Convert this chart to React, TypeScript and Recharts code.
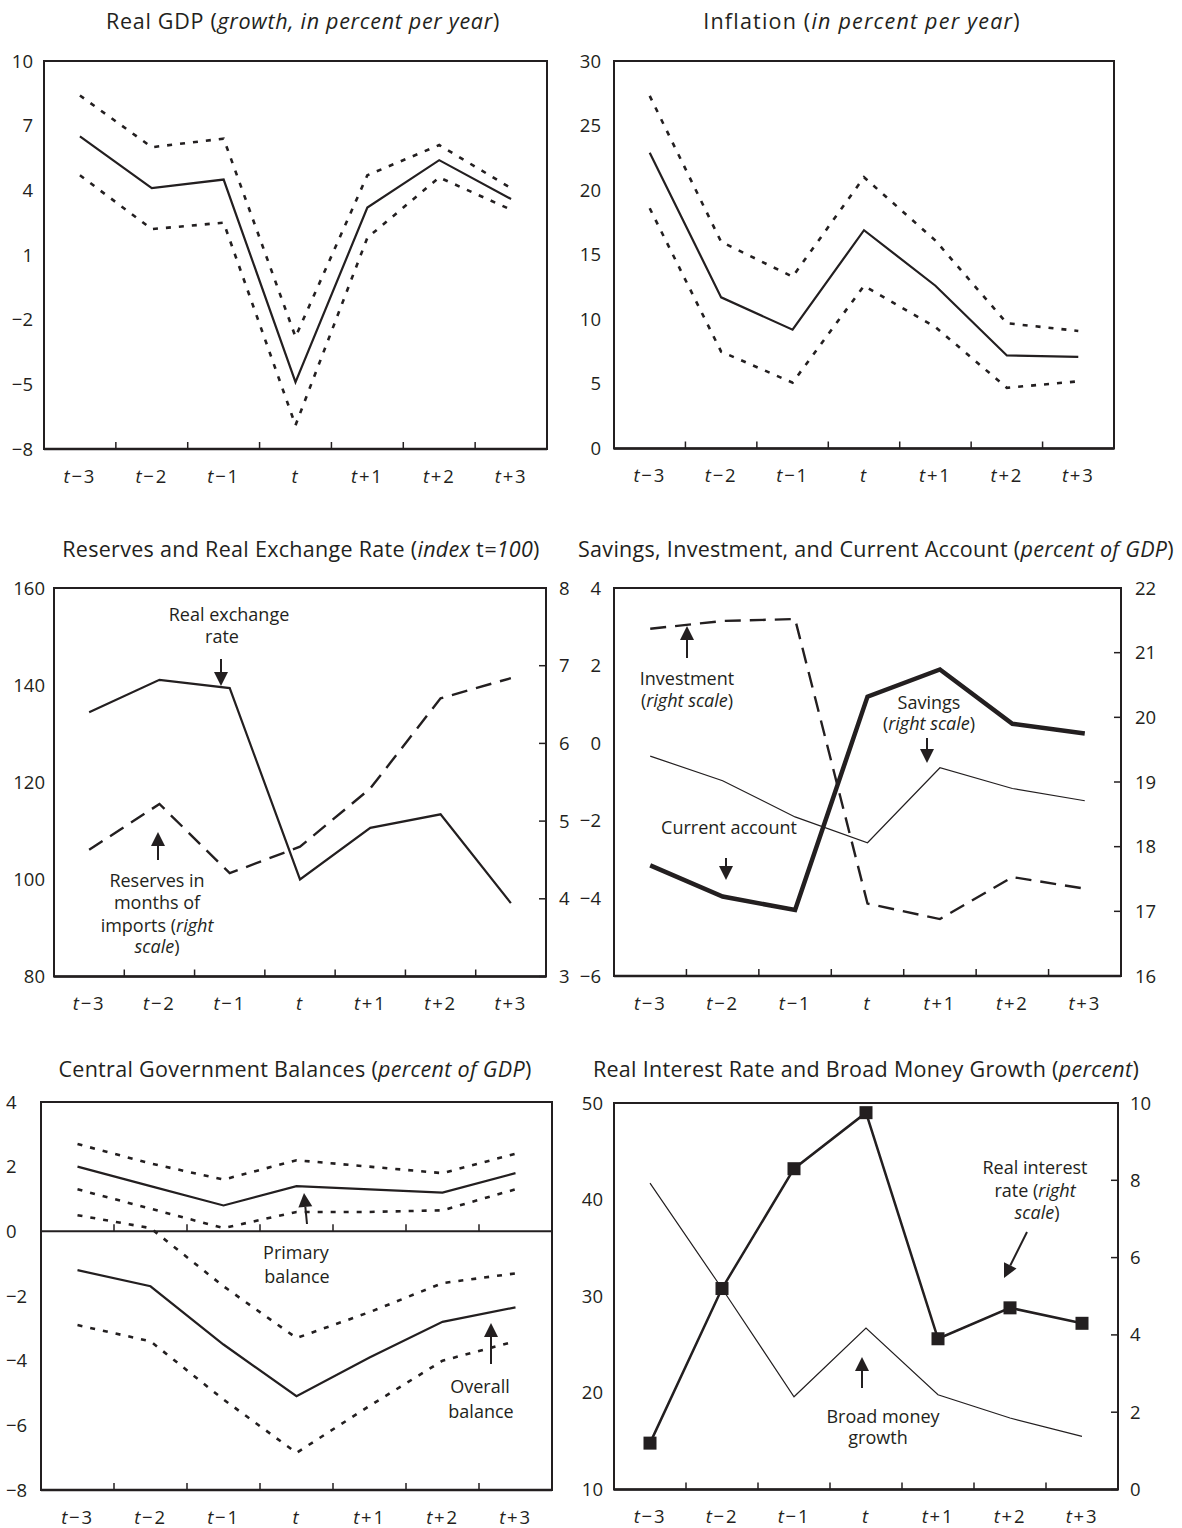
import React from 'react';
import { Line, LineChart, ReferenceArea, ReferenceLine, XAxis, YAxis } from 'recharts';

const INK = '#231f20';
const FONT = '"Open Sans", "Noto Sans", sans-serif';

const periods = ['t−3', 't−2', 't−1', 't', 't+1', 't+2', 't+3'];

// Real GDP (growth, percent per year)
const gdpBaseline = [6.5, 4.1, 4.5, -4.9, 3.2, 5.4, 3.6];
const gdpHigh = [8.4, 6.0, 6.4, -2.8, 4.7, 6.1, 4.1];
const gdpLow = [4.7, 2.2, 2.5, -6.9, 1.8, 4.6, 3.1];
const gdpTicks = [-8, -5, -2, 1, 4, 7, 10];

// Inflation (percent per year)
const inflBaseline = [22.9, 11.7, 9.2, 16.9, 12.6, 7.2, 7.1];
const inflHigh = [27.3, 16.0, 13.3, 21.0, 16.1, 9.7, 9.1];
const inflLow = [18.6, 7.5, 5.1, 12.6, 9.4, 4.7, 5.2];
const inflTicks = [0, 5, 10, 15, 20, 25, 30];

// Reserves and real exchange rate
const realExchangeRate = [134.4, 141.1, 139.4, 100.0, 110.6, 113.4, 95.1];
const reserveMonths = [4.63, 5.22, 4.33, 4.67, 5.42, 6.58, 6.84];
const rerTicks = [80, 100, 120, 140, 160];
const reserveTicks = [3, 4, 5, 6, 7, 8];

// Savings, investment, current account
const currentAccount = [-3.15, -3.95, -4.3, 1.2, 1.9, 0.5, 0.25];
const savings = [19.4, 19.02, 18.46, 18.06, 19.22, 18.9, 18.71];
const investment = [21.37, 21.49, 21.52, 17.12, 16.88, 17.53, 17.35];
const caTicks = [-6, -4, -2, 0, 2, 4];
const siTicks = [16, 17, 18, 19, 20, 21, 22];

// Central government balances
const primaryBalance = [2.0, 1.4, 0.8, 1.4, 1.3, 1.2, 1.8];
const primaryHigh = [2.7, 2.1, 1.6, 2.2, 2.0, 1.8, 2.4];
const primaryLow = [1.3, 0.7, 0.1, 0.6, 0.6, 0.65, 1.3];
const overallBalance = [-1.2, -1.7, -3.5, -5.1, -3.9, -2.8, -2.35];
const overallHigh = [0.5, 0.1, -1.7, -3.3, -2.5, -1.6, -1.3];
const overallLow = [-2.9, -3.4, -5.2, -6.85, -5.4, -4.0, -3.4];
const balanceTicks = [-8, -6, -4, -2, 0, 2, 4];

// Real interest rate and broad money growth
const broadMoney = [41.7, 30.8, 19.6, 26.7, 19.8, 17.4, 15.5];
const realRate = [1.2, 5.2, 8.3, 9.75, 3.9, 4.7, 4.3];
const moneyTicks = [10, 20, 30, 40, 50];
const rateTicks = [0, 2, 4, 6, 8, 10];

const LW = 50;
const RW = 50;
const MT = 12;
const XH = 45;
const TICK_FS = 18.5;

const xTicks = periods.flatMap((_, i) => (i === 0 ? [i + 0.5] : [i, i + 0.5]));
const boundaries = periods.slice(1).map((_, i) => i + 1);

const DOTTED = '5 8';
const DASHED = '16 9';

const minus = (v: number | string) => String(v).replace('-', '−');

type Box = { left: number; top: number; width: number; height: number };
type AxisSpec = { domain: [number, number]; ticks: number[]; gap: number; anchor?: 'start' | 'end' };
type SeriesSpec = {
  name: string;
  values: number[];
  side?: 'left' | 'right';
  width: number;
  dash?: string;
  squares?: boolean;
};
type Part = string | { i: string };

const PeriodTick = ({ x, y, payload }: any) => {
  const v = payload.value as number;
  if (Number.isInteger(v)) {
    return <line x1={x} x2={x} y1={y} y2={y - 7} stroke={INK} strokeWidth={1.5} />;
  }
  const label = periods[Math.floor(v)];
  return (
    <text x={x} y={y + 33.5} textAnchor='middle' fill={INK} fontFamily={FONT} fontSize={18.5} letterSpacing={1.8}>
      <tspan fontStyle='italic'>{label.slice(0, 1)}</tspan>
      <tspan>{label.slice(1)}</tspan>
    </text>
  );
};

const RightTick = ({ x, y, payload, gap }: any) => (
  <g>
    <line x1={x} x2={x - 7} y1={y} y2={y} stroke={INK} strokeWidth={1.5} />
    <text x={x + gap} y={y + 6.5} textAnchor='start' fill={INK} fontFamily={FONT} fontSize={TICK_FS}>
      {minus(payload.value)}
    </text>
  </g>
);

const SquareDot = (p: any) => (
  <rect key={`sq-${p.index}`} x={p.cx - 6.5} y={p.cy - 6.5} width={13} height={13} fill={INK} />
);

const Panel = ({
  box,
  left,
  right,
  series,
  zeroLine,
}: {
  box: Box;
  left: AxisSpec;
  right?: AxisSpec;
  series: SeriesSpec[];
  zeroLine?: boolean;
}) => {
  const rows = periods.map((label, i) => {
    const row: Record<string, number | string> = { x: i + 0.5, label };
    series.forEach((s) => {
      row[s.name] = s.values[i];
    });
    return row;
  });
  const anchor = left.anchor ?? 'end';

  return (
    <div style={{ position: 'absolute', left: box.left - LW, top: box.top - MT }}>
      <LineChart
        width={box.width + LW + RW}
        height={box.height + MT + XH}
        data={rows}
        margin={{ top: MT, right: right ? 0 : RW, bottom: 0, left: 0 }}
      >
        <XAxis
          dataKey='x'
          type='number'
          domain={[0, periods.length]}
          ticks={xTicks}
          interval={0}
          height={XH}
          tickLine={false}
          tickSize={0}
          tickMargin={0}
          axisLine={{ stroke: INK, strokeWidth: 2.5 }}
          tick={(p: any) => <PeriodTick {...p} />}
        />
        <YAxis
          yAxisId='left'
          domain={left.domain}
          ticks={left.ticks}
          interval={0}
          width={LW}
          axisLine={false}
          tickLine={false}
          tickSize={0}
          tickMargin={left.gap}
          allowDataOverflow
          tickFormatter={minus}
          tick={{ fill: INK, fontSize: TICK_FS, fontFamily: FONT, textAnchor: anchor }}
        />
        {right && (
          <YAxis
            yAxisId='right'
            orientation='right'
            domain={right.domain}
            ticks={right.ticks}
            interval={0}
            width={RW}
            axisLine={false}
            tickLine={false}
            tickSize={0}
            tickMargin={0}
            allowDataOverflow
            tick={(p: any) => <RightTick {...p} gap={right.gap} />}
          />
        )}
        <ReferenceArea
          yAxisId='left'
          x1={0}
          x2={periods.length}
          y1={left.domain[0]}
          y2={left.domain[1]}
          fill='none'
          stroke={INK}
          strokeWidth={2}
        />
        {zeroLine && <ReferenceLine yAxisId='left' y={0} stroke={INK} strokeWidth={2} />}
        {zeroLine &&
          boundaries.map((b) => (
            <ReferenceLine
              key={`zt-${b}`}
              yAxisId='left'
              segment={[
                { x: b, y: 0 },
                { x: b, y: 0.22 },
              ]}
              stroke={INK}
              strokeWidth={1.5}
            />
          ))}
        {series.map((s) => (
          <Line
            key={s.name}
            yAxisId={s.side ?? 'left'}
            dataKey={s.name}
            type='linear'
            stroke={INK}
            strokeWidth={s.width}
            strokeDasharray={s.dash}
            dot={s.squares ? SquareDot : false}
            activeDot={false}
            isAnimationActive={false}
          />
        ))}
      </LineChart>
    </div>
  );
};

const Txt = ({
  x,
  y,
  parts,
  size = 18,
  spacing = 0,
}: {
  x: number;
  y: number;
  parts: Part[];
  size?: number;
  spacing?: number;
}) => (
  <text x={x} y={y} textAnchor='middle' fill={INK} fontFamily={FONT} fontSize={size} letterSpacing={spacing}>
    {parts.map((p, i) =>
      typeof p === 'string' ? (
        <tspan key={i}>{p}</tspan>
      ) : (
        <tspan key={i} fontStyle='italic'>
          {p.i}
        </tspan>
      )
    )}
  </text>
);

const Arrow = ({ x1, y1, x2, y2 }: { x1: number; y1: number; x2: number; y2: number }) => {
  const len = Math.hypot(x2 - x1, y2 - y1);
  const ux = (x2 - x1) / len;
  const uy = (y2 - y1) / len;
  const bx = x2 - ux * 14;
  const by = y2 - uy * 14;
  const px = -uy * 7;
  const py = ux * 7;
  return (
    <g>
      <line x1={x1} y1={y1} x2={bx} y2={by} stroke={INK} strokeWidth={2} />
      <polygon points={`${x2},${y2} ${bx + px},${by + py} ${bx - px},${by - py}`} fill={INK} />
    </g>
  );
};

const titles: { x: number; y: number; parts: Part[]; spacing: number }[] = [
  { x: 303, y: 29, spacing: 0.7, parts: ['Real GDP (', { i: 'growth, in percent per year' }, ')'] },
  { x: 862, y: 29, spacing: 1.2, parts: ['Inflation (', { i: 'in percent per year' }, ')'] },
  { x: 301, y: 557, spacing: 0.3, parts: ['Reserves and Real Exchange Rate (', { i: 'index' }, ' t', { i: '=100' }, ')'] },
  { x: 876, y: 557, spacing: 0.3, parts: ['Savings, Investment, and Current Account (', { i: 'percent of GDP' }, ')'] },
  { x: 295, y: 1077, spacing: 0.3, parts: ['Central Government Balances (', { i: 'percent of GDP' }, ')'] },
  { x: 866, y: 1077, spacing: 0.3, parts: ['Real Interest Rate and Broad Money Growth (', { i: 'percent' }, ')'] },
];

const notes: { x: number; y: number; parts: Part[] }[] = [
  { x: 229, y: 621, parts: ['Real exchange'] },
  { x: 222, y: 643, parts: ['rate'] },
  { x: 157, y: 887, parts: ['Reserves in'] },
  { x: 157, y: 909, parts: ['months of'] },
  { x: 157, y: 932, parts: ['imports (', { i: 'right' }] },
  { x: 157, y: 953, parts: [{ i: 'scale' }, ')'] },
  { x: 687, y: 685, parts: ['Investment'] },
  { x: 687, y: 707, parts: ['(', { i: 'right scale' }, ')'] },
  { x: 929, y: 709, parts: ['Savings'] },
  { x: 929, y: 730, parts: ['(', { i: 'right scale' }, ')'] },
  { x: 729, y: 834, parts: ['Current account'] },
  { x: 296, y: 1259, parts: ['Primary'] },
  { x: 297, y: 1283, parts: ['balance'] },
  { x: 480, y: 1393, parts: ['Overall'] },
  { x: 481, y: 1418, parts: ['balance'] },
  { x: 1035, y: 1174, parts: ['Real interest'] },
  { x: 1035, y: 1197, parts: ['rate (', { i: 'right' }] },
  { x: 1037, y: 1219, parts: [{ i: 'scale' }, ')'] },
  { x: 883, y: 1423, parts: ['Broad money'] },
  { x: 878, y: 1444, parts: ['growth'] },
];

const arrows = [
  { x1: 221, y1: 659, x2: 221, y2: 686 },
  { x1: 158, y1: 860, x2: 158, y2: 832 },
  { x1: 687, y1: 658, x2: 687, y2: 626 },
  { x1: 927, y1: 738, x2: 927, y2: 763 },
  { x1: 726, y1: 858, x2: 726, y2: 880 },
  { x1: 307, y1: 1224, x2: 304, y2: 1193 },
  { x1: 491, y1: 1364, x2: 491, y2: 1323 },
  { x1: 1027, y1: 1232, x2: 1004, y2: 1278 },
  { x1: 862, y1: 1388, x2: 862, y2: 1357 },
];

export default function App() {
  return (
    <div
      style={{
        position: 'absolute',
        left: 0,
        top: 0,
        width: 1182,
        height: 1528,
        overflow: 'hidden',
        background: '#fff',
      }}
    >
      <Panel
        box={{ left: 44, top: 60.5, width: 503, height: 388 }}
        left={{ domain: [-8, 10], ticks: gdpTicks, gap: 11 }}
        series={[
          { name: 'high', values: gdpHigh, width: 2.6, dash: DOTTED },
          { name: 'low', values: gdpLow, width: 2.6, dash: DOTTED },
          { name: 'baseline', values: gdpBaseline, width: 2.2 },
        ]}
      />
      <Panel
        box={{ left: 613.5, top: 60.5, width: 500, height: 387.5 }}
        left={{ domain: [0, 30], ticks: inflTicks, gap: 13 }}
        series={[
          { name: 'high', values: inflHigh, width: 2.6, dash: DOTTED },
          { name: 'low', values: inflLow, width: 2.6, dash: DOTTED },
          { name: 'baseline', values: inflBaseline, width: 2.2 },
        ]}
      />
      <Panel
        box={{ left: 53.5, top: 587.5, width: 492, height: 388.5 }}
        left={{ domain: [80, 160], ticks: rerTicks, gap: 9 }}
        right={{ domain: [3, 8], ticks: reserveTicks, gap: 13 }}
        series={[
          { name: 'reserves', values: reserveMonths, side: 'right', width: 2.4, dash: DASHED },
          { name: 'rer', values: realExchangeRate, width: 2.2 },
        ]}
      />
      <Panel
        box={{ left: 613.5, top: 587.5, width: 507, height: 388 }}
        left={{ domain: [-6, 4], ticks: caTicks, gap: 13 }}
        right={{ domain: [16, 22], ticks: siTicks, gap: 14 }}
        series={[
          { name: 'investment', values: investment, side: 'right', width: 2.4, dash: DASHED },
          { name: 'savings', values: savings, side: 'right', width: 1.2 },
          { name: 'ca', values: currentAccount, width: 4.5 },
        ]}
      />
      <Panel
        box={{ left: 40.5, top: 1101.5, width: 511, height: 388 }}
        left={{ domain: [-8, 4], ticks: balanceTicks, gap: 35, anchor: 'start' }}
        zeroLine
        series={[
          { name: 'pHigh', values: primaryHigh, width: 2.6, dash: DOTTED },
          { name: 'pLow', values: primaryLow, width: 2.6, dash: DOTTED },
          { name: 'primary', values: primaryBalance, width: 2.2 },
          { name: 'oHigh', values: overallHigh, width: 2.6, dash: DOTTED },
          { name: 'oLow', values: overallLow, width: 2.6, dash: DOTTED },
          { name: 'overall', values: overallBalance, width: 2.2 },
        ]}
      />
      <Panel
        box={{ left: 613.5, top: 1103, width: 504, height: 386.5 }}
        left={{ domain: [10, 50], ticks: moneyTicks, gap: 11 }}
        right={{ domain: [0, 10], ticks: rateTicks, gap: 12 }}
        series={[
          { name: 'money', values: broadMoney, width: 1.2 },
          { name: 'rate', values: realRate, side: 'right', width: 2.5, squares: true },
        ]}
      />
      <svg
        width={1182}
        height={1528}
        style={{ position: 'absolute', left: 0, top: 0, pointerEvents: 'none' }}
      >
        {titles.map((t, i) => (
          <Txt key={`t-${i}`} x={t.x} y={t.y} parts={t.parts} size={21.5} spacing={t.spacing} />
        ))}
        {notes.map((n, i) => (
          <Txt key={`n-${i}`} x={n.x} y={n.y} parts={n.parts} />
        ))}
        {arrows.map((a, i) => (
          <Arrow key={`a-${i}`} {...a} />
        ))}
      </svg>
    </div>
  );
}
